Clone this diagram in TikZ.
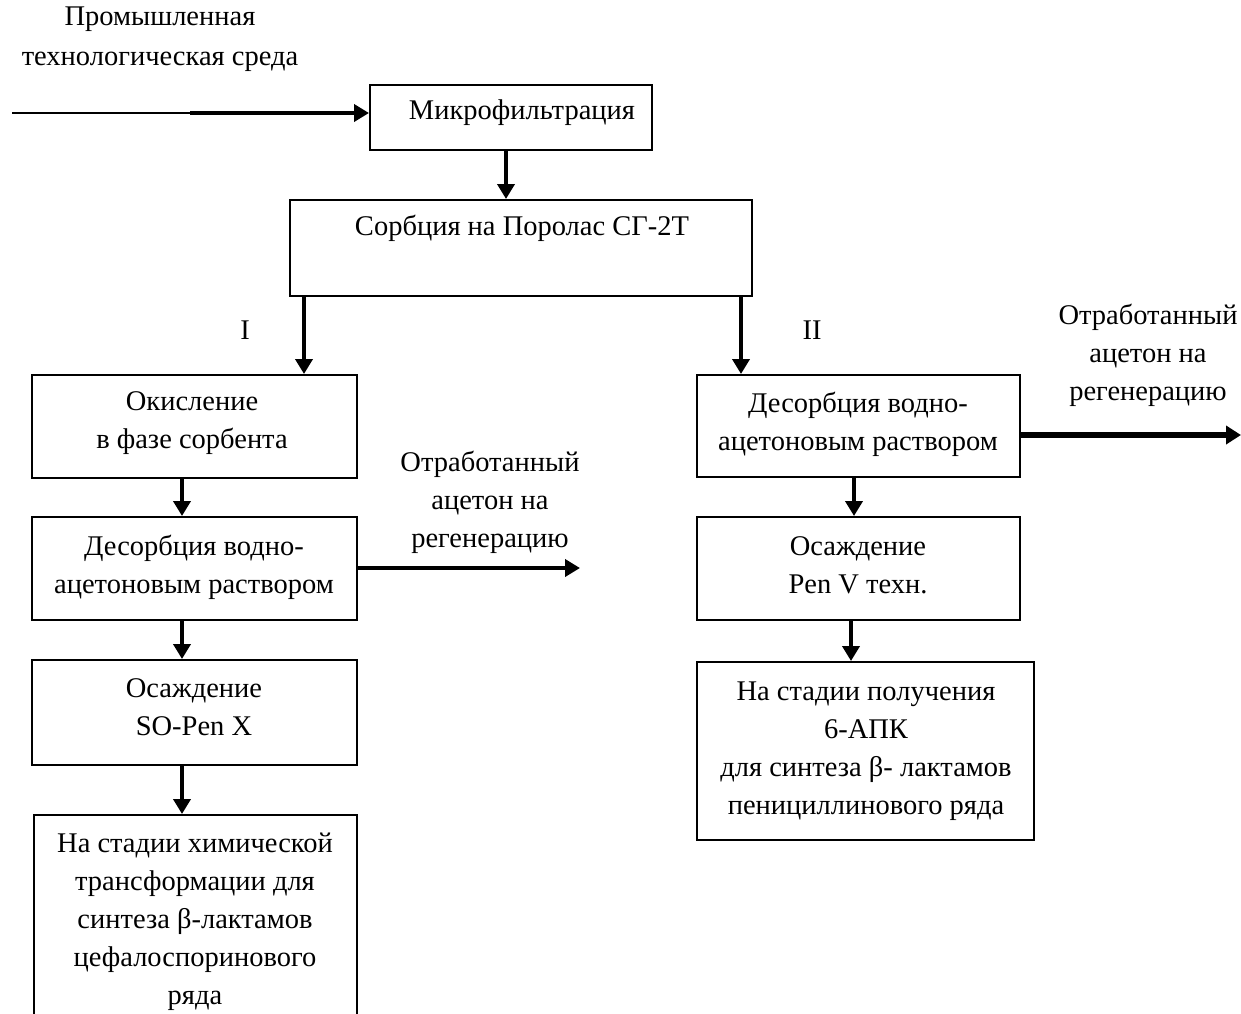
\documentclass[tikz,border=0pt]{standalone}
\usepackage{fontspec}
\setmainfont{Liberation Serif}
\usetikzlibrary{arrows.meta,calc}
\begin{document}
\begin{tikzpicture}[x=1pt,y=-1pt,
  box/.style={draw,line width=2pt,inner sep=0pt},
  txt/.style={align=center,inner sep=0pt,font=\fontsize{28.5}{38}\selectfont},
  arr/.style={line width=4pt,-{Triangle[length=15pt,width=17pt]}},
  thickarr/.style={line width=6pt,-{Triangle[length=15pt,width=18pt]}},
  thinline/.style={line width=1.4pt}]
\useasboundingbox (0,0) rectangle (1241,1013);
% boxes
\node[box,minimum width=282pt,minimum height=65pt] (mf) at (511,117.5) {};
\node[box,minimum width=462pt,minimum height=96pt] (sorp) at (521,248) {};
\node[box,minimum width=325pt,minimum height=103pt] (ok) at (194.5,426.5) {};
\node[box,minimum width=325pt,minimum height=103pt] (desL) at (194.5,568.5) {};
\node[box,minimum width=325pt,minimum height=105pt] (osL) at (194.5,712.5) {};
\node[box,minimum width=323pt,minimum height=215pt] (finL) at (195.5,922.5) {};
\node[box,minimum width=323pt,minimum height=102pt] (desR) at (858.5,426) {};
\node[box,minimum width=323pt,minimum height=103pt] (osR) at (858.5,568.5) {};
\node[box,minimum width=337pt,minimum height=178pt] (finR) at (865.5,751) {};
% texts
\node[txt,font=\fontsize{28.5}{40}\selectfont] (tin) at (160,39) {Промышленная\\технологическая среда};
\node[txt] (tmf) at (522,113) {Микрофильтрация};
\node[txt] (tsorp) at (522,228) {Сорбция на Поролас СГ-2Т};
\node[txt] (tI) at (245,330) {I};
\node[txt] (tII) at (812,330) {II};
\node[txt] (tok) at (192,423) {Окисление\\в фазе сорбента};
\node[txt] (tdesL) at (194,567) {Десорбция водно-\\ацетоновым раствором};
\node[txt] (tosL) at (194,707) {Осаждение\\SO-Pen X};
\node[txt] (tfinL) at (195,922) {На стадии химической\\трансформации для\\синтеза β-лактамов\\цефалоспоринового\\ряда};
\node[txt] (twL) at (490,502) {Отработанный\\ацетон на\\регенерацию};
\node[txt] (tdesR) at (858,424) {Десорбция водно-\\ацетоновым раствором};
\node[txt] (tosR) at (858,565) {Осаждение\\Pen V техн.};
\node[txt] (tfinR) at (866,751) {На стадии получения\\6-АПК\\для синтеза β- лактамов\\пенициллинового ряда};
\node[txt] (twR) at (1148,355) {Отработанный\\ацетон на\\регенерацию};
% connector end points
\coordinate (inS) at (12,113);
\coordinate (inM) at (190,113);
\coordinate (outL) at (580,568);
\coordinate (outR) at (1241,435);
\coordinate (a1) at ($(mf.south west)+(137,0)$);
\coordinate (a2) at ($(sorp.south west)+(15,0)$);
\coordinate (a3) at ($(sorp.south east)+(-12,0)$);
\coordinate (a4) at ($(ok.south west)+(151,0)$);
\coordinate (a5) at ($(desL.south west)+(151,0)$);
\coordinate (a6) at ($(osL.south west)+(151,0)$);
\coordinate (a7) at ($(desR.south west)+(158,0)$);
\coordinate (a8) at ($(osR.south west)+(155,0)$);
% connectors
\draw[thinline] (inS) -- (inM);
\draw[arr] (inM) -- (inM -| mf.west);
\draw[arr] (a1) -- (a1 |- sorp.north);
\draw[arr] (a2) -- (a2 |- ok.north);
\draw[arr] (a3) -- (a3 |- desR.north);
\draw[arr] (a4) -- (a4 |- desL.north);
\draw[arr] (a5) -- (a5 |- osL.north);
\draw[arr] (a6) -- (a6 |- finL.north);
\draw[arr] (desL.east |- outL) -- (outL);
\draw[thickarr] (desR.east |- outR) -- (outR);
\draw[arr] (a7) -- (a7 |- osR.north);
\draw[arr] (a8) -- (a8 |- finR.north);
\end{tikzpicture}
\end{document}
